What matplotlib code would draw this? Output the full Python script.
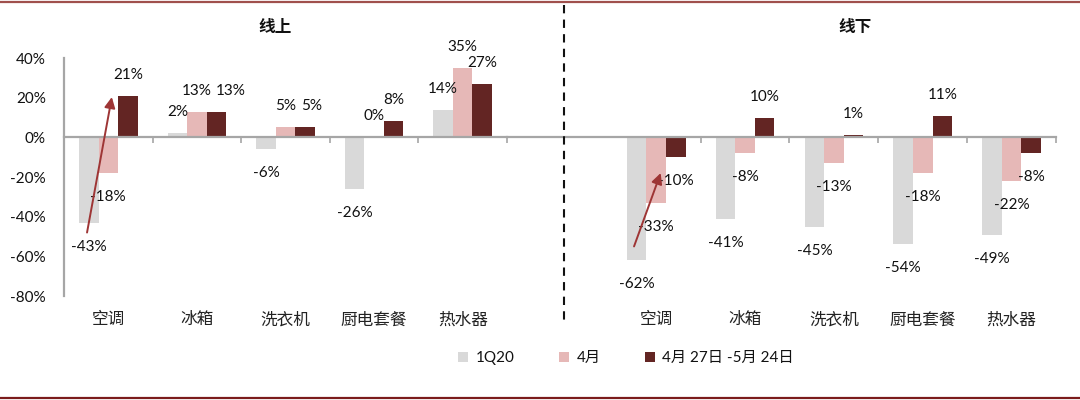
import matplotlib
matplotlib.use("Agg")
import matplotlib.pyplot as plt
from matplotlib.lines import Line2D
from matplotlib.patches import Patch
import numpy as np

# ---- data ----
categories = ["空调", "冰箱", "洗衣机", "厨电套餐", "热水器"]
series_names = ["1Q20", "4月", "4月 27日 -5月 24日"]
online_1q20 = [-43, 2, -6, -26, 14]
online_apr = [-18, 13, 5, 0, 35]
online_recent = [21, 13, 5, 8, 27]
offline_1q20 = [-62, -41, -45, -54, -49]
offline_apr = [-33, -8, -13, -18, -22]
offline_recent = [-10, 10, 1, 11, -8]
panel_titles = ["线上", "线下"]
yticks = [40, 20, 0, -20, -40, -60, -80]

colors = ["#d9d9d9", "#e6b8b7", "#632523"]
NUM_FONT = ["Lato", "Noto Sans CJK SC"]
CJK_FONT = ["Noto Sans CJK SC"]

W, H = 1080, 400
fig = plt.figure(figsize=(W / 100, H / 100), dpi=100)

def fx(px):
    return px / W

def fy(py):
    return 1 - py / H

ax_top, ax_bot = 58, 296
axL = fig.add_axes([fx(64), fy(ax_bot), fx(507 - 64), (ax_bot - ax_top) / H])
axR = fig.add_axes([fx(507), fy(ax_bot), fx(1056 - 507), (ax_bot - ax_top) / H])

bw = 0.22
offsets = [-0.22, 0.0, 0.22]

def draw(ax, data, xlim, show_y, title, title_x, nudges):
    ax.set_xlim(*xlim)
    ax.set_ylim(-80, 40)
    x = np.arange(len(categories))
    for s, (vals, c, off) in enumerate(zip(data, colors, offsets)):
        ax.bar(x + off, vals, width=bw, color=c, edgecolor="none", zorder=2)
        for i, (xi, v) in enumerate(zip(x, vals)):
            dy = 21 if v >= 0 else -24
            dx = nudges.get((s, i), 0)
            ax.annotate(f"{v}%", (xi + off, v), xytext=(dx, dy), textcoords="offset pixels",
                        ha="center", va="center", fontsize=11, family=NUM_FONT,
                        color="#111111", zorder=5)
    for sp in ["top", "right"]:
        ax.spines[sp].set_visible(False)
    ax.spines["bottom"].set_position(("data", 0))
    ax.spines["bottom"].set_color("#a6a6a6")
    ax.spines["bottom"].set_linewidth(1.6)
    ax.spines["bottom"].set_zorder(3)
    ax.set_xticks(np.arange(0.5, len(categories), 1.0))
    ax.set_xticklabels([])
    ax.tick_params(axis="x", direction="out", length=4, width=1.2, color="#a6a6a6")
    if show_y:
        ax.spines["left"].set_color("#a6a6a6")
        ax.spines["left"].set_linewidth(1.6)
        ax.set_yticks(yticks)
        ax.set_yticklabels([f"{t}%" for t in yticks], family=NUM_FONT, fontsize=11, color="#111111")
        ax.tick_params(axis="y", length=0, pad=13)
    else:
        ax.spines["left"].set_visible(False)
        ax.set_yticks([])
    for xi, cat in zip(x, categories):
        ax.text(xi, -0.10, cat, transform=ax.get_xaxis_transform(), ha="center", va="center",
                fontsize=12, family=CJK_FONT, color="#222222")
    fig.text(fx(title_x), fy(27), title, ha="center", va="center", fontsize=12,
             fontweight="bold", family=CJK_FONT, color="#111111")
    ax.patch.set_visible(False)

draw(axL, [online_1q20, online_apr, online_recent], (-0.5, 4.5), True, panel_titles[0], 275,
     {(2, 1): 14, (2, 2): 7})
draw(axR, [offline_1q20, offline_apr, offline_recent], (-1.68, 4.5), False, panel_titles[1], 855,
     {})

arrow_kw = dict(arrowstyle="-|>", mutation_scale=16, lw=1.4, color="#9e3535", shrinkA=0, shrinkB=0)
axL.annotate("", xy=(0.04, 20.3), xytext=(-0.24, -48), arrowprops=arrow_kw, zorder=6)
axR.annotate("", xy=(0.05, -18), xytext=(-0.25, -55), arrowprops=arrow_kw, zorder=6)

# divider and frame lines
fig.add_artist(Line2D([fx(564), fx(564)], [fy(5), fy(322)], color="#111111", lw=1.5,
                      linestyle=(0, (4, 3))))
fig.add_artist(Line2D([0, 1], [fy(2), fy(2)], color="#a0504d", lw=1.6))
fig.add_artist(Line2D([0, 1], [fy(397.5), fy(397.5)], color="#7b1c1c", lw=1.6))

handles = [Patch(facecolor=c, edgecolor="none") for c in colors]
leg = fig.legend(handles, series_names, loc="center", bbox_to_anchor=(fx(626), fy(358)),
                 ncol=3, frameon=False, handlelength=0.65, handleheight=0.65,
                 handletextpad=0.5, columnspacing=2.9,
                 prop={"family": NUM_FONT, "size": 11})
for t in leg.get_texts():
    t.set_color("#111111")

fig.savefig("out.png", dpi=100)
